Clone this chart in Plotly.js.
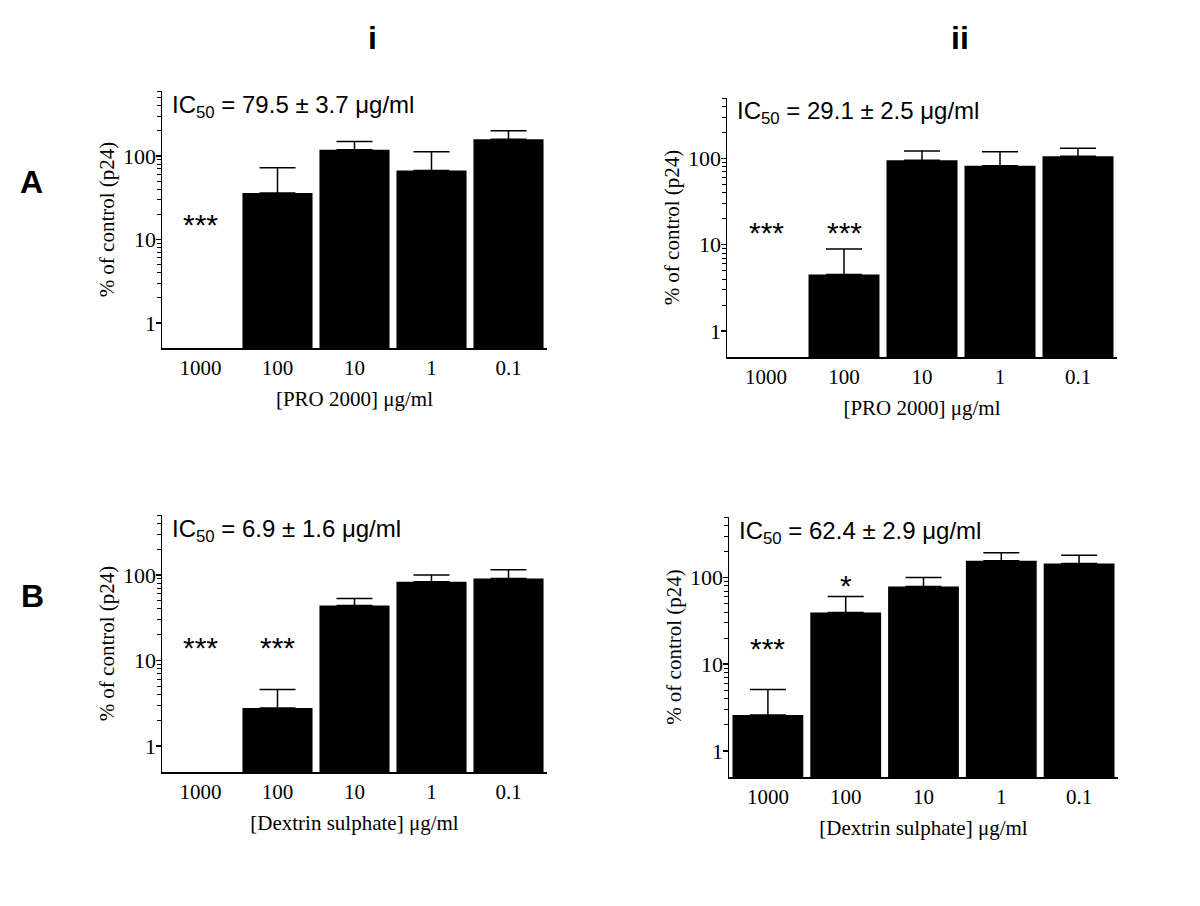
<!DOCTYPE html>
<html>
<head>
<meta charset="utf-8">
<script src="https://cdn.plot.ly/plotly-3.0.1.min.js"></script>
<style>html,body{margin:0;padding:0;background:#fff}#chart{width:1200px;height:906px}</style>
</head>
<body>
<div id="chart"></div>
<script>
// ---- data ----
const categories = ['1000', '100', '10', '1', '0.1'];

const valuesAi  = [null, 36, 119, 67, 158];
const errUpAi   = [null, 36, 30, 45, 42];
const valuesAii = [null, 4.5, 95, 82, 106];
const errUpAii  = [null, 4.4, 27, 37, 25];
const valuesBi  = [null, 2.8, 44, 83, 91];
const errUpBi   = [null, 1.8, 9, 17, 24];
const valuesBii = [2.6, 39.6, 79, 156, 145];
const errUpBii  = [2.5, 21, 21, 37, 36];

const ic50Ai  = 'IC<sub>50</sub> = 79.5 ± 3.7 μg/ml';
const ic50Aii = 'IC<sub>50</sub> = 29.1 ± 2.5 μg/ml';
const ic50Bi  = 'IC<sub>50</sub> = 6.9 ± 1.6 μg/ml';
const ic50Bii = 'IC<sub>50</sub> = 62.4 ± 2.9 μg/ml';

// significance marks: [category, y value, label]
const starsAi  = [['1000', 15, '***']];
const starsAii = [['1000', 13.7, '***'], ['100', 13.7, '***']];
const starsBi  = [['1000', 14.2, '***'], ['100', 14.2, '***']];
const starsBii = [['1000', 15, '***'], ['100', 80, '*']];

const xTitleA = '[PRO 2000] μg/ml';
const xTitleB = '[Dextrin sulphate] μg/ml';
const yTitle = '% of control (p24)';

const majorTicks = [1, 10, 100];
const majorTickText = ['1', '10', '100'];
const minorTicks = [2, 3, 4, 5, 6, 7, 8, 9, 20, 30, 40, 50, 60, 70, 80, 90, 200, 300, 400, 500, 600];

const headerLabels = ['i', 'ii', 'A', 'B'];

// ---- layout helpers ----
const W = 1200, H = 906;
const serif = 'Liberation Serif, Times New Roman, serif';
const sans = 'Liberation Sans, Arial, sans-serif';

const panels = [
  {id: '',  box: [162, 547, 91, 348],  ymax: 600, vals: valuesAi,  err: errUpAi,  ic: ic50Ai,  stars: starsAi,  xt: xTitleA},
  {id: '2', box: [727, 1117, 98, 357], ymax: 500, vals: valuesAii, err: errUpAii, ic: ic50Aii, stars: starsAii, xt: xTitleA},
  {id: '3', box: [162, 547, 515, 772], ymax: 500, vals: valuesBi,  err: errUpBi,  ic: ic50Bi,  stars: starsBi,  xt: xTitleB},
  {id: '4', box: [729, 1118, 517, 777], ymax: 500, vals: valuesBii, err: errUpBii, ic: ic50Bii, stars: starsBii, xt: xTitleB}
];

const traces = [];
const layout = {
  width: W, height: H,
  margin: {l: 0, r: 0, t: 0, b: 0},
  paper_bgcolor: '#fff', plot_bgcolor: '#fff',
  showlegend: false,
  bargap: 0.09,
  annotations: []
};

panels.forEach(p => {
  const [l, r, t, b] = p.box;
  const xa = 'xaxis' + p.id, ya = 'yaxis' + p.id;
  const xr = 'x' + p.id, yr = 'y' + p.id;
  traces.push({
    type: 'bar', x: categories, y: p.vals, xaxis: xr, yaxis: yr,
    marker: {color: '#000', line: {width: 0}},
    error_y: {type: 'data', symmetric: false, array: p.err, arrayminus: p.err.map(() => 0),
              color: '#000', thickness: 1.5, width: 18},
    hoverinfo: 'skip'
  });
  layout[xa] = {
    domain: [l / W, r / W], anchor: yr,
    type: 'category', range: [-0.5, 4.5],
    showline: true, linecolor: '#000', linewidth: 1.5, mirror: false,
    ticks: '', showgrid: false, zeroline: false,
    tickfont: {family: serif, size: 21, color: '#000'},
    title: {text: p.xt, font: {family: serif, size: 21, color: '#000'}, standoff: 12}
  };
  layout[ya] = {
    domain: [1 - b / H, 1 - t / H], anchor: xr,
    type: 'log', range: [Math.log10(0.5), Math.log10(p.ymax)],
    showline: true, linecolor: '#000', linewidth: 1.5,
    ticks: 'outside', ticklen: 5, tickwidth: 1.5, tickcolor: '#000',
    ticklabelstandoff: -5,
    tickmode: 'array', tickvals: majorTicks, ticktext: majorTickText,
    minor: {ticks: 'outside', ticklen: 4, tickwidth: 1, tickcolor: '#000', tickmode: 'array', tickvals: minorTicks, showgrid: false},
    showgrid: false, zeroline: false,
    tickfont: {family: serif, size: 22, color: '#000'},
    title: {text: yTitle, font: {family: serif, size: 21, color: '#000'}, standoff: 2}
  };
  // IC50 label
  layout.annotations.push({
    xref: 'paper', yref: 'paper', x: (l + 8) / W, y: 1 - (t + 15) / H,
    xanchor: 'left', yanchor: 'middle', showarrow: false,
    text: p.ic, font: {family: sans, size: 24, color: '#000'}
  });
  // stars (category index on x, log10 value on y)
  p.stars.forEach(s => {
    layout.annotations.push({
      xref: xr, yref: yr, x: categories.indexOf(s[0]), y: Math.log10(s[1]),
      xanchor: 'center', yanchor: 'middle', showarrow: false,
      text: s[2], font: {family: sans, size: 30, color: '#000'}
    });
  });
});

// column and row headers (positions in px)
const headerPos = [[372, 38], [960, 38], [31, 182], [32, 596]];
headerLabels.forEach((lab, i) => {
  layout.annotations.push({
    xref: 'paper', yref: 'paper', x: headerPos[i][0] / W, y: 1 - headerPos[i][1] / H,
    xanchor: 'center', yanchor: 'middle', showarrow: false,
    text: lab, font: {family: sans, size: 32, color: '#000', weight: 'bold'}
  });
});

Plotly.newPlot('chart', traces, layout, {displayModeBar: false, staticPlot: true});
</script>
</body>
</html>
